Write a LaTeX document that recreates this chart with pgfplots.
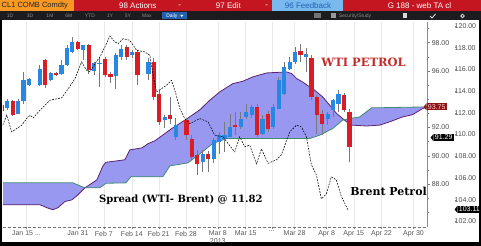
\documentclass[border=0pt]{standalone}
\usepackage{fontspec}
\usepackage{pgfplots}
\usepackage{pgfplotstable}
\pgfplotsset{compat=1.18}
\newfontfamily\sans{Liberation Sans}
\newfontfamily\ann{DejaVu Serif}
\definecolor{bbred}{RGB}{196,22,32}
\definecolor{bborange}{RGB}{246,152,34}
\definecolor{bbdark}{RGB}{28,28,30}
\definecolor{bbfeed}{RGB}{120,185,240}
\definecolor{bbdaily}{RGB}{36,96,176}
\definecolor{candleup}{RGB}{40,135,225}
\definecolor{candledn}{RGB}{218,28,36}
\definecolor{wick}{RGB}{120,120,125}
\definecolor{cloudfill}{RGB}{152,152,240}
\definecolor{purpline}{RGB}{92,34,110}
\definecolor{tealline}{RGB}{62,140,112}
\definecolor{wtired}{RGB}{196,44,44}
\definecolor{tagred}{RGB}{140,22,26}

% WTI candles (x = trading-day slot)
\pgfplotstableread{
k o h l c
0 93.39 94.05 93.23 93.86
2 92.99 94.02 92.96 93.90
3 93.86 95.93 93.69 95.34
4 94.99 95.51 94.94 95.42
6 95.03 96.43 94.94 96.16
8 95.34 95.93 95.30 95.86
10 95.81 96.78 95.72 96.40
11 96.40 97.84 96.35 97.63
12 97.34 98.40 97.27 98.05
14 97.46 97.84 96.78 97.82
16 96.02 96.64 95.72 96.59
17 96.50 96.99 94.87 96.57
20 95.63 97.27 94.75 97.11
21 96.99 97.84 96.78 97.58
23 97.11 97.48 96.92 97.34
26 95.81 96.92 95.37 96.64
29 92.52 92.89 91.98 92.75
31 91.34 92.68 91.13 92.17
36 89.58 90.42 88.87 90.16
38 89.77 91.27 89.50 91.11
39 90.99 91.69 90.16 91.46
40 91.22 92.40 90.28 91.46
41 91.34 92.99 91.30 92.05
43 92.05 93.11 91.91 92.63
44 92.75 93.69 92.63 93.11
45 92.87 93.60 92.68 93.46
47 91.57 92.89 91.46 92.63
49 92.05 93.69 91.93 93.46
50 93.34 95.58 93.30 95.34
51 94.40 96.64 94.31 96.28
52 96.16 96.99 96.07 96.64
53 96.64 97.70 96.52 97.34
55 96.99 97.60 95.93 97.22
59 92.63 93.11 92.19 92.99
60 93.23 94.05 92.75 93.93
61 93.69 94.64 93.11 94.40
}\upc
\pgfplotstableread{
k o h l c
-1 93.60 93.74 93.11 93.18
1 93.86 93.95 92.82 92.87
7 96.76 96.85 94.80 94.99
9 95.86 95.93 95.65 95.74
13 98.05 98.12 97.48 97.53
15 97.82 97.91 95.79 96.05
18 96.87 96.99 95.58 95.70
19 95.81 95.93 95.15 95.58
22 97.70 97.84 96.78 96.99
24 97.34 97.48 94.99 95.70
27 96.64 96.92 93.95 94.17
28 94.40 94.66 92.19 92.40
30 92.87 94.17 92.28 92.63
33 92.52 92.68 91.11 91.46
34 91.22 91.48 89.71 89.93
35 90.05 90.42 88.66 89.45
37 90.16 90.35 88.87 89.77
42 92.17 93.11 91.46 92.05
46 93.46 93.69 91.34 91.46
48 92.99 93.18 91.69 91.93
54 97.39 97.93 96.64 97.11
56 96.92 97.13 93.95 94.17
57 94.17 94.29 91.57 92.87
58 92.99 93.24 91.48 92.28
62 94.29 94.45 93.11 93.23
63 93.11 93.34 89.58 90.63
}\dnc
% Ichimoku cloud boundaries
\pgfplotstableread{
k v
-0.77 86.54
6.03 86.54
7.32 86.33
8.42 86.19
9.34 86.33
10.63 86.77
11.92 86.89
13.02 87.24
14.31 87.74
16.51 88.30
17.62 89.29
18.17 89.54
21.66 89.72
22.58 90.42
24.79 90.56
25.89 90.85
27.18 91.06
30.30 91.93
32.70 92.52
35.45 93.25
37.29 93.93
39.13 94.52
41.52 95.10
43.36 95.27
45.20 95.58
47.77 95.86
51.45 95.93
52.37 95.81
53.29 95.46
54.39 95.22
55.68 94.87
56.23 94.75
58.07 94.17
59.36 93.58
60.64 92.99
62.48 92.40
63.41 92.17
66.16 92.11
68.55 92.17
70.39 92.40
72.78 92.75
74.62 92.91
76.46 93.34
77.38 93.46
}\spanA
\pgfplotstableread{
k v
-0.77 88.09
12.10 88.09
13.39 87.88
14.31 87.74
17.06 87.74
18.17 88.06
21.85 88.09
22.77 88.52
28.65 88.52
29.94 89.29
33.25 89.50
35.45 90.14
37.84 90.87
40.42 91.22
55.68 91.22
57.52 91.46
59.91 91.93
61.75 92.52
63.04 92.63
64.88 92.75
67.08 93.39
77.38 93.46
}\spanB
% cloud outline: span A forward, span B backward
\pgfplotstableread{
k v
-0.77 86.54
6.03 86.54
7.32 86.33
8.42 86.19
9.34 86.33
10.63 86.77
11.92 86.89
13.02 87.24
14.31 87.74
16.51 88.30
17.62 89.29
18.17 89.54
21.66 89.72
22.58 90.42
24.79 90.56
25.89 90.85
27.18 91.06
30.30 91.93
32.70 92.52
35.45 93.25
37.29 93.93
39.13 94.52
41.52 95.10
43.36 95.27
45.20 95.58
47.77 95.86
51.45 95.93
52.37 95.81
53.29 95.46
54.39 95.22
55.68 94.87
56.23 94.75
58.07 94.17
59.36 93.58
60.64 92.99
62.48 92.40
63.41 92.17
66.16 92.11
68.55 92.17
70.39 92.40
72.78 92.75
74.62 92.91
76.46 93.34
77.38 93.46
67.08 93.39
64.88 92.75
63.04 92.63
61.75 92.52
59.91 91.93
57.52 91.46
55.68 91.22
40.42 91.22
37.84 90.87
35.45 90.14
33.25 89.50
29.94 89.29
28.65 88.52
22.77 88.52
21.85 88.09
18.17 88.06
17.06 87.74
14.31 87.74
13.39 87.88
12.10 88.09
-0.77 88.09
}\cloud

\begin{document}
\begin{tikzpicture}
\begin{scope}[x=1pt,y=1pt]
\fill[white] (0,0) rectangle (481,246);
\path[use as bounding box] (0,0) rectangle (481,246);
% ---------- header ----------
\fill[bbred] (0,234.5) rectangle (481,246);
\fill[bborange] (0,234.5) rectangle (74,246);
\node[anchor=west, inner sep=0pt, font=\sans\fontsize{7.5}{8}\selectfont, text=black!85] at (1.5,240.2) {CL1 COMB Comdty};
\node[anchor=west, inner sep=0pt, font=\sans\fontsize{8}{9}\selectfont, text=white] at (119,240.2) {98 Actions};
\node[anchor=center, inner sep=0pt, font=\sans\fontsize{8}{9}\selectfont, text=white] at (180,240.2) {-};
\node[anchor=west, inner sep=0pt, font=\sans\fontsize{8}{9}\selectfont, text=white] at (216,240.2) {97 Edit};
\node[anchor=center, inner sep=0pt, font=\sans\fontsize{8}{9}\selectfont, text=white] at (267,240.2) {-};
\fill[bbfeed] (272,235) rectangle (343,245.5);
\node[anchor=west, inner sep=0pt, font=\sans\fontsize{8}{9}\selectfont, text=bbdaily] at (285,240.2) {96 Feedback};
\node[anchor=west, inner sep=0pt, font=\sans\fontsize{8}{9}\selectfont, text=white] at (388,240.2) {G 188 - web TA cl};
\fill[bbdark] (0,225.5) rectangle (481,234.5);
\foreach \xx/\lab in {10/1D,30/3D,50/1M,69/6M,90/YTD,110/1Y,128/5Y,147/Max}
  \node[inner sep=0pt, font=\sans\fontsize{5}{5}\selectfont, text=black!45] at (\xx,230) {\lab};
\fill[bbdaily] (162,226.5) rectangle (187,233.5);
\node[inner sep=0pt, font=\sans\fontsize{5}{5}\selectfont, text=white] at (172,230) {Daily};
\fill[white] (180.5,231) -- (183.5,231) -- (182,229) -- cycle;
\fill[black!55] (314,227.5) rectangle (321,232.5);
\fill[black!40] (331,227.5) rectangle (336,232.5);
\node[anchor=west, inner sep=0pt, font=\sans\fontsize{5}{5}\selectfont, text=black!45] at (339,230) {Security/Study};
\fill[white!85!black] (403,227.5) rectangle (407,232.5);
\draw[white!85!black, line width=0.9pt] (430.5,230) -- (432.5,228) -- (436,232);
\draw[white!85!black, line width=0.8pt] (463,230) circle (1.8);
% ---------- frame ----------
\fill[black] (0,0) rectangle (2.5,225.5);
\fill[black] (0,0) rectangle (481,3.8);
\fill[black] (479.8,0) rectangle (481,225.5);
\end{scope}

% ---------- WTI axis (candles + cloud) ----------
\begin{axis}[
  at={(3pt,19pt)}, anchor=south west, width=425pt, height=205pt, scale only axis,
  xmin=-0.7723, xmax=77.382, ymin=84.985, ymax=99.462,
  axis x line*=bottom, axis y line*=right,
  x axis line style={black!55, densely dashed},
  y axis line style={black!45},
  xtick={3.55,13.02,17.8,22.95,27.9,32.9,38.76,43.9,48.7,52.9,58.8,63.8,68.9,74.8},
  xticklabels={{Jan 15 .{}.{}.},{Jan 31},{Feb 7},{Feb 14},{Feb 21},{Feb 28},{Mar 8\\2013},{Mar 15},{.{}.{}.},{Mar 28},{Apr 8},{Apr 15},{Apr 22},{Apr 30}},
  xmajorgrids, grid style={black!9, line width=0.5pt},
  ytick={88,90,92,96,98},
  yticklabels={88.00,90.00,92.00,96.00,98.00},
  minor ytick={86,87,...,99},
  tick style={black!50, line width=0.4pt},
  major tick length=2.5pt, minor tick length=1.5pt, tick align=outside,
  xticklabel style={font=\sans\fontsize{7}{7.5}\selectfont, text=black!65, align=center, inner sep=1.5pt},
  yticklabel style={font=\sans\fontsize{7}{8}\selectfont, text=black!70, inner sep=1.5pt},
]
\addplot[fill=cloudfill, draw=none] table[x=k, y=v] {\cloud};
\addplot[draw=purpline, line width=0.8pt] table[x=k, y=v] {\spanA};
\addplot[draw=tealline, line width=0.8pt] table[x=k, y=v] {\spanB};
% wicks
\addplot[draw=wick, line width=0.8pt, quiver={u=0, v=\thisrow{h}-\thisrow{l}}] table[x=k, y=l] {\upc};
\addplot[draw=wick, line width=0.8pt, quiver={u=0, v=\thisrow{h}-\thisrow{l}}] table[x=k, y=l] {\dnc};
% bodies
\addplot[draw=candleup, line width=4.2pt, quiver={u=0, v=\thisrow{c}-\thisrow{o}}] table[x=k, y=o] {\upc};
\addplot[draw=candledn, line width=4.2pt, quiver={u=0, v=\thisrow{o}-\thisrow{c}}] table[x=k, y=c] {\dnc};
\coordinate (lw) at (axis cs:65.6,96.60);
\coordinate (ls) at (axis cs:31.96,86.89);
\coordinate (lb) at (axis cs:70.21,87.46);
\coordinate (ta) at (axis cs:77.382,93.46);
\coordinate (tw) at (axis cs:77.382,91.29);
\end{axis}

% ---------- Brent axis (dashed line) ----------
\begin{axis}[
  at={(3pt,19pt)}, anchor=south west, width=425pt, height=205pt, scale only axis,
  xmin=-0.7723, xmax=77.382, ymin=101.509, ymax=120.368,
  axis x line=none, axis y line*=right, y axis line style={draw=none},
  ytick={102,104,...,120},
  yticklabels={102.00,104.00,106.00,108.00,110.00,112.00,114.00,116.00,118.00,120.00},
  major tick length=0pt,
  yticklabel style={font=\sans\fontsize{7}{8}\selectfont, text=black!70, anchor=west, inner sep=0pt, xshift=27pt},
]
\addplot[black, line width=0.55pt, dash pattern=on 1.8pt off 1.2pt] coordinates {
(-0.83,110.86) (-0.09,111.78) (0.83,110.25) (1.75,110.55) (2.67,110.86) (3.59,111.47)
(4.19,111.78) (4.80,111.54) (6.03,112.24) (7.87,113.16) (10.02,113.38) (11.24,114.23)
(12.47,115.15) (13.70,116.69) (14.62,115.92) (15.23,115.77) (16.15,116.53) (17.07,117.15)
(17.98,118.07) (18.90,119.08) (19.82,118.53) (20.43,118.37) (21.35,118.83) (22.58,118.68)
(23.81,117.76) (25.34,117.61) (26.26,117.30) (26.87,115.46) (27.49,113.93) (28.41,114.23)
(29.33,114.54) (30.25,115.00) (30.86,114.08) (31.78,112.39) (32.70,111.47) (33.62,111.01)
(35.45,111.47) (36.98,111.17) (38.21,109.94) (39.74,109.79) (40.66,109.17) (41.89,108.41)
(42.81,109.79) (43.73,108.87) (44.65,109.02) (45.88,107.30) (46.80,108.68) (48.01,107.35)
(49.56,107.67) (50.48,108.13) (51.40,109.42) (52.01,110.25) (53.24,110.86) (54.16,110.71)
(55.08,109.79) (55.68,108.10) (56.00,107.21) (56.91,106.29) (57.83,104.08) (58.75,104.54)
(59.67,106.11) (60.59,105.83) (61.51,104.30) (62.72,103.07)};
\coordinate (tb) at (axis cs:77.382,103.11);
\end{axis}

\begin{scope}[x=1pt,y=1pt]
% tick dashes for the outer scale
\foreach \v in {102,104,...,120}
  \draw[black!50, line width=0.4pt] (455,{19+(\v-101.509)*205/18.859}) -- ++(2.5,0);
% ---------- annotations ----------
\node[font=\ann\bfseries\fontsize{11.5}{13}\selectfont, text=wtired] at (lw) {WTI PETROL};
\node[font=\ann\bfseries\fontsize{10}{12}\selectfont] at (ls) {Spread (WTI- Brent) @ 11.82};
\node[font=\ann\bfseries\fontsize{11}{13}\selectfont] at (lb) {Brent Petrol};
% ---------- value tags ----------
\node[fill=tagred, text=red!20, font=\sans\fontsize{7}{8}\selectfont, inner xsep=1.2pt, inner ysep=1pt, anchor=west] (na) at ([xshift=-1pt]ta) {93.75};
\fill[tagred] (na.north west) -- ([xshift=-3pt]na.west) -- (na.south west) -- cycle;
\node[fill=black, text=white, font=\sans\fontsize{7}{8}\selectfont, inner xsep=1.2pt, inner ysep=1pt, anchor=west] (nw) at ([xshift=6pt]tw) {91.29};
\fill[black] (nw.north west) -- ([xshift=-3pt]nw.west) -- (nw.south west) -- cycle;
\node[fill=black, text=white, font=\sans\fontsize{7}{8}\selectfont, inner xsep=1.2pt, inner ysep=1pt, anchor=west] (nb) at ([xshift=30pt]tb) {103.11};
\fill[black] (nb.north west) -- ([xshift=-3pt]nb.west) -- (nb.south west) -- cycle;
\end{scope}
\end{tikzpicture}
\end{document}
